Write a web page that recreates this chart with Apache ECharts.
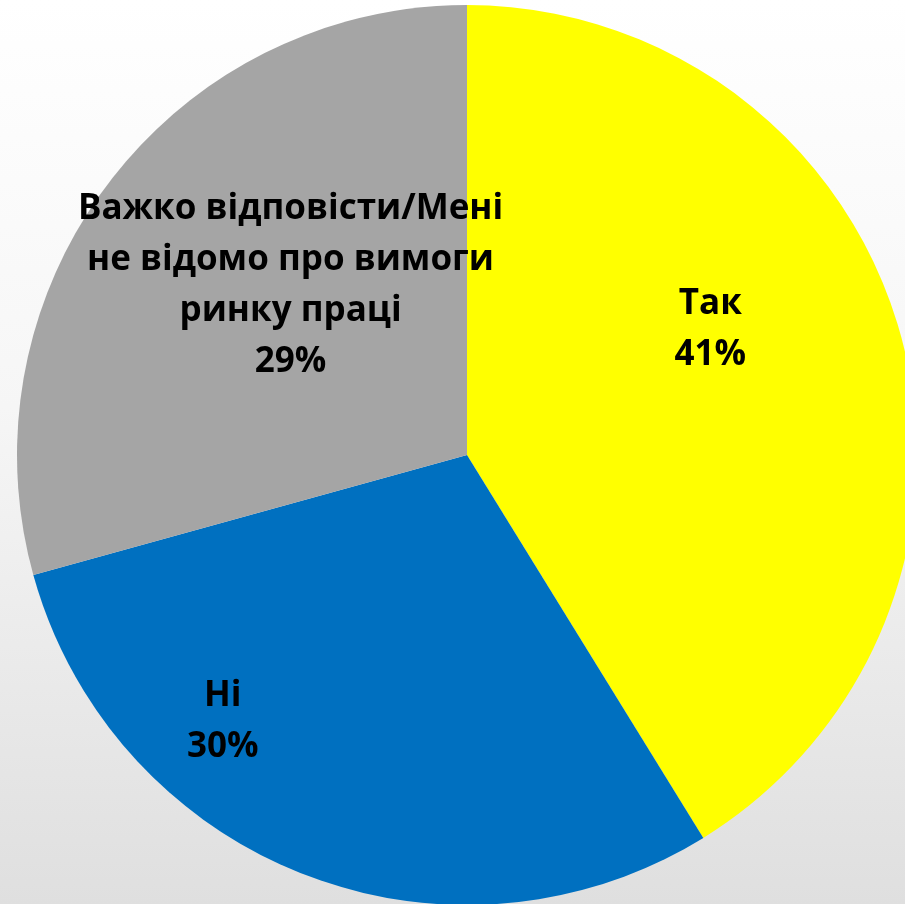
<!DOCTYPE html>
<html>
<head>
<meta charset="utf-8">
<script src="https://cdn.jsdelivr.net/npm/echarts@6/dist/echarts.min.js"></script>
<style>
html,body{margin:0;padding:0;}
#chart{width:905px;height:904px;background:linear-gradient(to bottom,#ffffff 0%,#f6f6f6 45%,#dfdfdf 100%);}
</style>
</head>
<body>
<div id="chart"></div>
<script>
const categories = ['Так', 'Ні', 'Важко відповісти/Мені\nне відомо про вимоги\nринку праці'];
const values = [41.2, 29.5, 29.3];
const colors = ['#FFFF00', '#0070C0', '#A5A5A5'];
const labelOffsets = [[24, -63], [-161, 54], [5, -31]];

const chart = echarts.init(document.getElementById('chart'), null, {renderer: 'canvas'});
chart.setOption({
  backgroundColor: 'transparent',
  animation: false,
  series: [{
    type: 'pie',
    center: [467, 455],
    radius: [0, 450],
    startAngle: 90,
    clockwise: true,
    silent: true,
    percentPrecision: 0,
    avoidLabelOverlap: false,
    itemStyle: {borderWidth: 0},
    label: {
      show: true,
      position: 'inside',
      formatter: '{b}\n{d}%',
      color: '#000',
      fontFamily: 'Open Sans',
      fontWeight: 'bold',
      fontSize: 35,
      lineHeight: 51,
      align: 'center'
    },
    labelLine: {show: false},
    data: categories.map((c, i) => ({
      name: c,
      value: values[i],
      itemStyle: {color: colors[i]},
      label: {offset: labelOffsets[i]}
    }))
  }]
});
</script>
</body>
</html>
